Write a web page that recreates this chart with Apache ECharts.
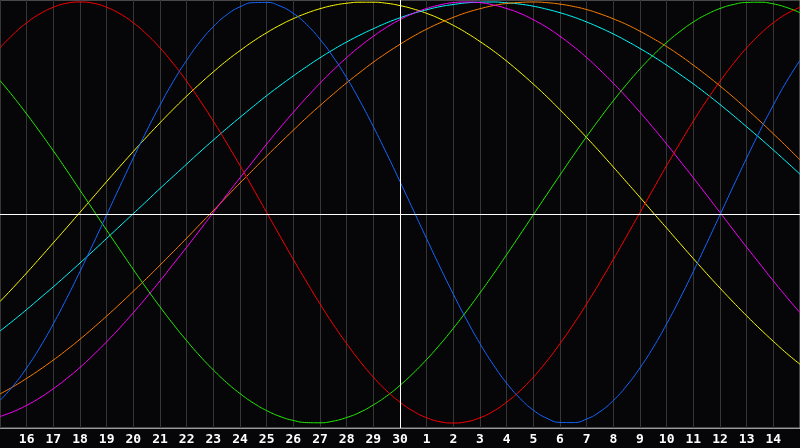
<!DOCTYPE html>
<html><head><meta charset="utf-8">
<script src="https://cdn.jsdelivr.net/npm/echarts@6/dist/echarts.min.js"></script>
<style>html,body{margin:0;padding:0;background:#060609;}#c{width:800px;height:448px;}</style>
</head><body><div id="c"></div>
<script>
// day labels at each whole-day gridline (index 0..30)
const days = ['15','16','17','18','19','20','21','22','23','24','25','26','27','28','29','30','1','2','3','4','5','6','7','8','9','10','11','12','13','14','15'];
// values sampled every half day from the left edge
const blue = [-0.893,-0.823,-0.738,-0.640,-0.529,-0.408,-0.280,-0.147,-0.011,0.125,0.259,0.388,0.510,0.623,0.723,0.811,0.883,0.939,0.977,0.997,0.998,0.981,0.946,0.893,0.823,0.738,0.640,0.529,0.408,0.280,0.147,0.011,-0.125,-0.259,-0.388,-0.510,-0.623,-0.723,-0.811,-0.883,-0.939,-0.977,-0.997,-0.998,-0.981,-0.946,-0.893,-0.823,-0.738,-0.640,-0.529,-0.408,-0.280,-0.147,-0.011,0.125,0.259,0.388,0.510,0.623,0.723];
const red = [0.782,0.847,0.901,0.944,0.975,0.994,1,0.994,0.975,0.944,0.901,0.847,0.782,0.707,0.623,0.532,0.434,0.330,0.223,0.112,0,-0.112,-0.223,-0.330,-0.434,-0.532,-0.623,-0.707,-0.782,-0.847,-0.901,-0.944,-0.975,-0.994,-1,-0.994,-0.975,-0.944,-0.901,-0.847,-0.782,-0.707,-0.623,-0.532,-0.434,-0.330,-0.223,-0.112,0,0.112,0.223,0.330,0.434,0.532,0.623,0.707,0.782,0.847,0.901,0.944,0.975];
const green = [0.627,0.550,0.468,0.382,0.293,0.201,0.106,0.011,-0.084,-0.178,-0.271,-0.361,-0.448,-0.531,-0.609,-0.682,-0.748,-0.808,-0.860,-0.905,-0.941,-0.969,-0.988,-0.998,-0.999,-0.991,-0.974,-0.949,-0.914,-0.872,-0.821,-0.763,-0.698,-0.627,-0.550,-0.468,-0.382,-0.293,-0.200,-0.106,-0.011,0.084,0.178,0.271,0.361,0.448,0.531,0.609,0.682,0.748,0.808,0.860,0.905,0.941,0.969,0.988,0.998,0.999,0.991,0.974,0.949];
const yellow = [-0.423,-0.356,-0.287,-0.216,-0.144,-0.072,0.001,0.074,0.147,0.219,0.290,0.359,0.426,0.491,0.553,0.612,0.668,0.721,0.769,0.814,0.854,0.890,0.921,0.947,0.968,0.984,0.994,0.999,0.999,0.994,0.983,0.967,0.946,0.920,0.889,0.853,0.812,0.768,0.719,0.666,0.610,0.551,0.488,0.423,0.356,0.287,0.216,0.144,0.072,-0.002,-0.074,-0.147,-0.219,-0.290,-0.359,-0.426,-0.491,-0.553,-0.612,-0.669,-0.721];
const magenta = [-0.969,-0.946,-0.916,-0.880,-0.837,-0.789,-0.736,-0.677,-0.614,-0.547,-0.476,-0.402,-0.325,-0.245,-0.165,-0.083,0,0.083,0.165,0.245,0.325,0.402,0.476,0.547,0.614,0.677,0.736,0.789,0.837,0.880,0.916,0.946,0.969,0.986,0.997,1,0.997,0.986,0.969,0.946,0.916,0.880,0.837,0.789,0.736,0.677,0.614,0.547,0.476,0.402,0.325,0.245,0.165,0.083,0,-0.083,-0.165,-0.245,-0.325,-0.402,-0.476];
const cyan = [-0.563,-0.513,-0.461,-0.407,-0.353,-0.297,-0.240,-0.182,-0.123,-0.064,-0.005,0.054,0.114,0.172,0.230,0.288,0.344,0.399,0.452,0.504,0.555,0.603,0.649,0.693,0.735,0.774,0.810,0.843,0.873,0.901,0.925,0.946,0.963,0.978,0.988,0.996,0.999,1.000,0.996,0.990,0.980,0.966,0.949,0.929,0.905,0.878,0.848,0.815,0.779,0.741,0.700,0.656,0.611,0.563,0.513,0.461,0.407,0.353,0.297,0.240,0.182];
const orange = [-0.862,-0.827,-0.788,-0.746,-0.701,-0.653,-0.602,-0.548,-0.492,-0.434,-0.374,-0.313,-0.250,-0.186,-0.122,-0.056,0.009,0.075,0.140,0.204,0.268,0.330,0.391,0.451,0.508,0.563,0.616,0.666,0.714,0.758,0.799,0.837,0.871,0.901,0.927,0.950,0.968,0.983,0.993,0.998,1.000,0.997,0.990,0.979,0.964,0.944,0.920,0.893,0.861,0.826,0.788,0.746,0.700,0.652,0.601,0.548,0.492,0.434,0.374,0.313,0.250];

const seriesDefs = [
  ['yellow', yellow, '#ffff00'],
  ['cyan', cyan, '#00ffff'],
  ['orange', orange, '#ff8000'],
  ['magenta', magenta, '#ff00ff'],
  ['green', green, '#22ee00'],
  ['red', red, '#ff0000'],
  ['blue', blue, '#1466ff']
];

const chart = echarts.init(document.getElementById('c'), null, {renderer: 'canvas'});
const series = seriesDefs.map(([name, vals, color]) => ({
  name, type: 'line', data: vals.map((v, i) => [i / 2, v]), smooth: true, symbol: 'none', silent: true,
  lineStyle: {color, width: 1}, animation: false
}));
series.push({
  type: 'line', data: [], silent: true, animation: false,
  markLine: {
    symbol: 'none', silent: true, label: {show: false},
    lineStyle: {color: '#ffffff', width: 1, type: 'solid'},
    data: [{yAxis: -0.0095}, {xAxis: 15}]
  }
});
chart.setOption({
  backgroundColor: '#060609',
  animation: false,
  grid: {left: 0, right: 0, top: 0, bottom: 20, containLabel: false, outerBoundsMode: 'none',
    show: true, borderColor: '#8a8a8a', borderWidth: 1, backgroundColor: 'transparent'},
  xAxis: {
    type: 'value', min: 0, max: 30, interval: 1,
    axisLine: {show: true, onZero: false, lineStyle: {color: '#9a9a9a', width: 1}},
    axisTick: {show: false},
    splitLine: {show: true, lineStyle: {color: '#363636', width: 1}},
    axisLabel: {
      formatter: (v) => (v > 0 && v < 30) ? days[v] : '',
      color: '#ffffff', fontFamily: 'DejaVu Sans Mono', fontWeight: 'bold', fontSize: 13, margin: 5
    }
  },
  yAxis: {
    type: 'value', min: -1.02375, max: 1.0095,
    show: false, splitLine: {show: false}
  },
  series
});
</script></body></html>
